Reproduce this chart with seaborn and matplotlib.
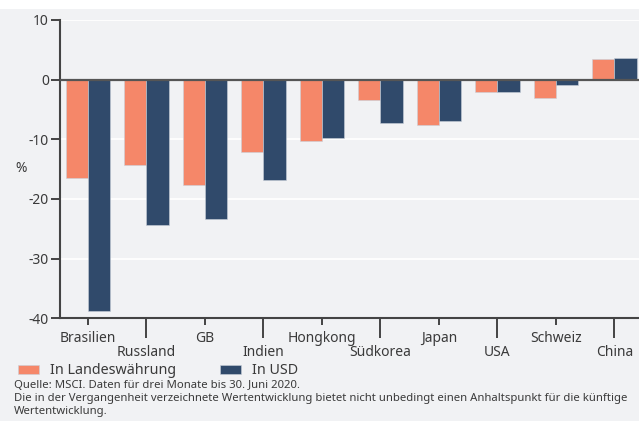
import seaborn as sns
import numpy as np
import pandas as pd
import matplotlib.pyplot as plt
from matplotlib.patches import Rectangle

COUNTRY = 'Land'
SERIES = 'Serie'
VALUE = 'Wert'

countries = ['Brasilien', 'Russland', 'GB', 'Indien', 'Hongkong',
             'Südkorea', 'Japan', 'USA', 'Schweiz', 'China']
series_names = ['In Landeswährung', 'In USD']
local_vals = [-16.5, -14.3, -17.7, -12.2, -10.2, -3.4, -7.6, -2.1, -3.0, 3.4]
usd_vals = [-38.8, -24.4, -23.3, -16.9, -9.7, -7.2, -6.9, -2.1, -0.9, 3.6]
y_ticks = [10, 0, -10, -20, -30, -40]
source_text = ('Quelle: MSCI. Daten für drei Monate bis 30. Juni 2020.\n'
               'Die in der Vergangenheit verzeichnete Wertentwicklung bietet '
               'nicht unbedingt einen Anhaltspunkt für die künftige\n'
               'Wertentwicklung.')

BG = '#f1f2f4'
ORANGE = '#f58769'
BLUE = '#304a6b'
TEXT = '#3a3a3a'

df = pd.DataFrame({
    COUNTRY: countries * 2,
    SERIES: [series_names[0]] * len(countries) + [series_names[1]] * len(countries),
    VALUE: local_vals + usd_vals,
})

sns.set_theme(style='white')
plt.rcParams['font.family'] = ['Noto Sans', 'DejaVu Sans']

fig = plt.figure(figsize=(6.39, 4.21), dpi=100, facecolor=BG)
ax = fig.add_axes([60 / 639, 1 - 318.3 / 421, 1 - 60 / 639, (318.3 - 20) / 421])
ax.set_facecolor(BG)
fig.patches.append(Rectangle((0, 1 - 9 / 421), 1, 9 / 421, transform=fig.transFigure,
                             facecolor='white', edgecolor='none', zorder=-1))

sns.barplot(data=df, x=COUNTRY, y=VALUE, hue=SERIES, order=countries,
            hue_order=series_names, palette=[ORANGE, BLUE], width=0.76,
            saturation=1, ax=ax, edgecolor='#c9d0da', linewidth=0.4, zorder=3)

ax.set_ylim(-40, 10)
ax.set_xlim(-0.475, 9.42)
ax.set_yticks(y_ticks)
ax.set_yticklabels([str(t) for t in y_ticks], fontsize=10, color=TEXT)
for t in [10, -10, -20, -30]:
    ax.axhline(t, color='white', lw=1.3, zorder=1)
ax.axhline(0, color='#555555', lw=1.6, zorder=4)

idx = np.arange(len(countries))
ax.set_xticks(idx[::2])
ax.set_xticklabels(countries[::2], fontsize=10, color=TEXT)
ax.set_xticks(idx[1::2], minor=True)
ax.set_xticklabels(countries[1::2], minor=True, fontsize=10, color=TEXT)
ax.tick_params(axis='x', which='major', length=5, width=1.4, color='#444444',
               pad=4.5, bottom=True)
ax.tick_params(axis='x', which='minor', length=14.5, width=1.4, color='#444444',
               pad=5, bottom=True)
ax.tick_params(axis='y', length=6.5, width=1.4, color='#444444', pad=1.5, left=True)

for side in ['top', 'right']:
    ax.spines[side].set_visible(False)
for side in ['left', 'bottom']:
    ax.spines[side].set_color('#444444')
    ax.spines[side].set_linewidth(1.5)

ax.set_xlabel('')
ax.set_ylabel('')
fig.text(15 / 639, 1 - 168 / 421, '%', fontsize=10, color=TEXT, ha='left', va='center')

handles, labels = ax.get_legend_handles_labels()
ax.get_legend().remove()
fig.legend(handles, labels, loc='center left', bbox_to_anchor=(0.012, 1 - 371 / 421),
           ncol=2, frameon=False, fontsize=10.3, handlelength=1.5, handleheight=0.68,
           handletextpad=0.75, columnspacing=3.05, labelcolor=TEXT, borderpad=0.2)

fig.text(14 / 639, 1 - 380 / 421, source_text, fontsize=8.15, color=TEXT,
         ha='left', va='top', linespacing=1.25)

fig.savefig('out.png', dpi=100, facecolor=BG)
